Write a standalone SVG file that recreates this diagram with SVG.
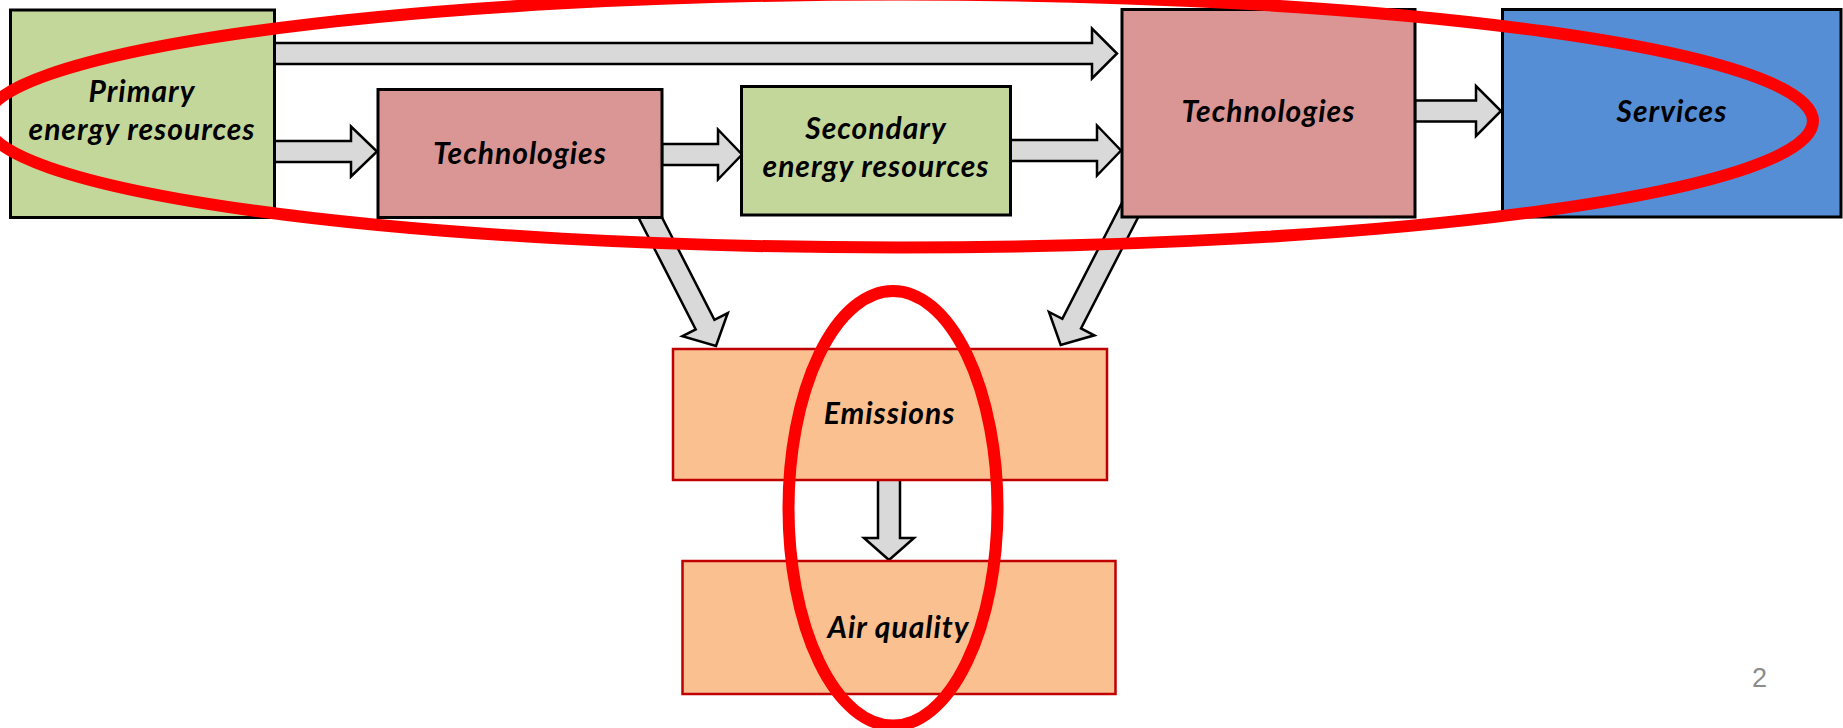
<svg xmlns="http://www.w3.org/2000/svg" width="1843" height="728" viewBox="0 0 1843 728">
<style>
.box{stroke:#000;stroke-width:3}
.green{fill:#C4D79B}
.pink{fill:#DA9694}
.blue{fill:#558ED5}
.orange{fill:#FAC090;stroke:#C00000;stroke-width:2.5}
.arrow{fill:#D9D9D9;stroke:#000;stroke-width:2.5;stroke-linejoin:miter}
.lbl{font-family:Lato,"Liberation Sans",sans-serif;font-weight:bold;font-style:italic;font-size:30px;letter-spacing:1px;fill:#000;text-anchor:middle}
.ring{fill:none;stroke:#FF0000;stroke-width:12}
</style>
<rect width="1843" height="728" fill="#fff"/>
<g id="connectors">
<polygon class="arrow" points="273,43 1092,43 1092,28.5 1117,53.5 1092,78.5 1092,64 273,64"/>
<polygon class="arrow" points="273,141 351,141 351,126.5 377,151.5 351,176.5 351,162 273,162"/>
<polygon class="arrow" points="662,144 718,144 718,129.5 742,154.5 718,179.5 718,165 662,165"/>
<polygon class="arrow" points="1010,140 1097,140 1097,125.5 1121,150.5 1097,175.5 1097,161 1010,161"/>
<polygon class="arrow" points="1415,100.5 1476,100.5 1476,86 1501,111 1476,136 1476,121.5 1415,121.5"/>
<polygon class="arrow" transform="translate(716,346) rotate(62.9)" points="-164,-10.5 -24,-10.5 -24,-25.5 0,0 -24,25.5 -24,10.5 -164,10.5"/>
<polygon class="arrow" transform="translate(1060.7,345) rotate(117.2)" points="-169,-10.5 -24,-10.5 -24,-25.5 0,0 -24,25.5 -24,10.5 -169,10.5"/>
<polygon class="arrow" points="878,478 900,478 900,538 914,538 889,560 864,538 878,538"/>
</g>
<g id="primary">
<rect class="box green" x="10.5" y="10" width="264" height="207.5"/>
<text class="lbl" x="142" y="102">Primary</text>
<text class="lbl" x="142" y="140">energy resources</text>
</g>
<g id="tech1">
<rect class="box pink" x="378" y="89.5" width="284" height="128"/>
<text class="lbl" x="520" y="163.5">Technologies</text>
</g>
<g id="secondary">
<rect class="box green" x="741.5" y="86.5" width="269" height="128.5"/>
<text class="lbl" x="876" y="139">Secondary</text>
<text class="lbl" x="876" y="177">energy resources</text>
</g>
<g id="tech2">
<rect class="box pink" x="1122" y="9.5" width="293" height="207.5"/>
<text class="lbl" x="1268.5" y="122">Technologies</text>
</g>
<g id="services">
<rect class="box blue" x="1502.5" y="9.5" width="338.5" height="207.5"/>
<text class="lbl" x="1672" y="122">Services</text>
</g>
<g id="emissions">
<rect class="orange" x="673" y="349" width="434" height="131"/>
<text class="lbl" x="889.5" y="424">Emissions</text>
</g>
<g id="airquality">
<rect class="orange" x="682.5" y="561" width="433" height="133"/>
<text class="lbl" x="898.5" y="638">Air quality</text>
</g>
<g id="highlights">
<ellipse class="ring" cx="899" cy="121" rx="914" ry="126.5"/>
<ellipse class="ring" cx="893" cy="508.3" rx="104.5" ry="217.3"/>
</g>
<text x="1759.5" y="687" font-family="'Liberation Sans',Arial,sans-serif" font-size="27" fill="#8C8C8C" text-anchor="middle">2</text>
</svg>
